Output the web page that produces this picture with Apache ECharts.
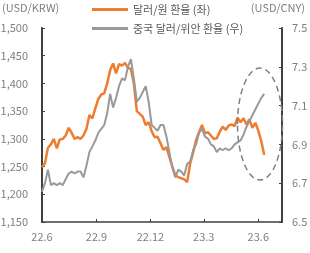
<!DOCTYPE html>
<html>
<head>
<meta charset="utf-8">
<script src="https://cdn.jsdelivr.net/npm/echarts@6.0.0/dist/echarts.min.js"></script>
<style>
  html, body { margin: 0; padding: 0; background: #fff; }
  #chart { width: 310px; height: 253px; }
</style>
</head>
<body>
<div id="chart"></div>
<script>
// sample dates (every 5 days)
var dates = [
  '2022-06-01','2022-06-06','2022-06-11','2022-06-16','2022-06-21','2022-06-26',
  '2022-07-01','2022-07-06','2022-07-11','2022-07-16','2022-07-21','2022-07-26','2022-07-31',
  '2022-08-05','2022-08-10','2022-08-15','2022-08-20','2022-08-25','2022-08-30',
  '2022-09-04','2022-09-09','2022-09-14','2022-09-19','2022-09-24','2022-09-29',
  '2022-10-04','2022-10-09','2022-10-14','2022-10-19','2022-10-24','2022-10-29',
  '2022-11-03','2022-11-08','2022-11-13','2022-11-18','2022-11-23','2022-11-28',
  '2022-12-03','2022-12-08','2022-12-13','2022-12-18','2022-12-23','2022-12-28',
  '2023-01-02','2023-01-07','2023-01-12','2023-01-17','2023-01-22','2023-01-27',
  '2023-02-01','2023-02-06','2023-02-11','2023-02-16','2023-02-21','2023-02-26',
  '2023-03-03','2023-03-08','2023-03-13','2023-03-18','2023-03-23','2023-03-28',
  '2023-04-02','2023-04-07','2023-04-12','2023-04-17','2023-04-22','2023-04-27',
  '2023-05-02','2023-05-07','2023-05-12','2023-05-17','2023-05-22','2023-05-27',
  '2023-06-01','2023-06-06','2023-06-11'
];

// 달러/원 환율 (좌)
var krw = [
  1249,1256,1284,1290,1300,1283,
  1299,1300,1306,1320,1311,1300,1303,
  1300,1306,1318,1343,1337,1355,
  1372,1380,1382,1400,1424,1436,
  1418,1435,1432,1437,1428,1426,
  1400,1350,1345,1340,1325,1330,
  1314,1303,1304,1292,1280,1285,
  1267,1250,1234,1231,1229,1227,
  1222,1255,1275,1298,1312,1325,
  1310,1312,1306,1300,1301,1313,
  1322,1316,1324,1326,1323,1338,
  1330,1337,1326,1335,1320,1329,
  1315,1296,1271
];

// 중국 달러/위안 환율 (우)
var cny = [
  6.656,6.70,6.77,6.69,6.70,6.69,
  6.70,6.69,6.72,6.75,6.76,6.75,6.76,
  6.76,6.73,6.79,6.86,6.89,6.92,
  6.96,6.98,7.00,7.06,7.16,7.09,
  7.14,7.20,7.24,7.23,7.30,7.34,
  7.24,7.12,7.14,7.17,7.20,7.12,
  7.00,6.985,6.97,7.00,7.00,6.94,
  6.86,6.78,6.73,6.77,6.76,6.74,
  6.80,6.81,6.87,6.90,6.96,6.98,
  6.94,6.93,6.90,6.89,6.86,6.88,
  6.87,6.88,6.87,6.88,6.90,6.91,
  6.92,6.95,6.99,7.02,7.05,7.08,
  7.11,7.14,7.16
];

var tickDates = ['2022-06-01','2022-09-01','2022-12-01','2023-03-01','2023-06-01'];
var tickLabels = ['22.6','22.9','22.12','23.3','23.6'];
var xStart = '2022-06-01';
var xEnd = '2023-07-11';

var chart = echarts.init(document.getElementById('chart'));
var labelColor = '#7f7f7f';
var axisColor = '#404040';
var orange = '#ED7D31';
var gray = '#999999';
var font = "'Noto Sans CJK KR', 'Noto Sans', sans-serif";

function ts(d){ return new Date(d + 'T00:00:00Z').getTime(); }
var tickTimes = tickDates.map(ts);

function pairs(vals){
  var out = [];
  for (var i = 0; i < vals.length; i++) out.push([ts(dates[i]), vals[i]]);
  return out;
}

var option = {
  animation: false,
  textStyle: { fontFamily: font },
  grid: { left: 42, right: 28, top: 28, bottom: 31, containLabel: false, outerBoundsMode: 'none' },
  legend: {
    orient: 'vertical',
    left: 92,
    top: 4,
    padding: 0,
    icon: 'rect',
    itemWidth: 36,
    itemHeight: 3,
    itemGap: 8,
    textStyle: { color: '#595959', fontSize: 11, fontFamily: font },
    data: [
      { name: '달러/원 환율 (좌)', itemStyle: { color: orange } },
      { name: '중국 달러/위안 환율 (우)', itemStyle: { color: gray } }
    ]
  },
  xAxis: {
    type: 'value',
    min: ts(xStart),
    max: ts(xEnd),
    splitLine: { show: false },
    axisLine: { show: true, lineStyle: { color: axisColor, width: 1.5 } },
    axisTick: { show: true, inside: true, length: 3, customValues: tickTimes, lineStyle: { color: axisColor } },
    axisLabel: {
      customValues: tickTimes,
      color: labelColor,
      fontSize: 11,
      margin: 9,
      showMinLabel: true,
      showMaxLabel: true,
      formatter: function(v){
        var best = 0;
        for (var i = 1; i < tickTimes.length; i++) {
          if (Math.abs(tickTimes[i] - v) < Math.abs(tickTimes[best] - v)) best = i;
        }
        return tickLabels[best];
      }
    }
  },
  yAxis: [
    {
      type: 'value',
      min: 1150,
      max: 1500,
      interval: 50,
      splitLine: { show: false },
      axisLine: { show: true, lineStyle: { color: axisColor, width: 2 } },
      axisTick: { show: true, inside: true, length: 3, lineStyle: { color: axisColor } },
      axisLabel: {
        color: labelColor,
        fontSize: 11,
        margin: 14,
        formatter: function(v){ return v.toLocaleString('en-US'); }
      }
    },
    {
      type: 'value',
      min: 6.5,
      max: 7.5,
      interval: 0.2,
      position: 'right',
      splitLine: { show: false },
      axisLine: { show: true, lineStyle: { color: axisColor, width: 2 } },
      axisTick: { show: true, inside: true, length: 3, lineStyle: { color: axisColor } },
      axisLabel: {
        color: labelColor,
        fontSize: 11,
        margin: 10,
        formatter: function(v){ return v.toFixed(1); }
      }
    }
  ],
  series: [
    {
      name: '달러/원 환율 (좌)',
      type: 'line',
      yAxisIndex: 0,
      symbol: 'none',
      showSymbol: false,
      lineStyle: { color: orange, width: 2.5 },
      itemStyle: { color: orange },
      data: pairs(krw)
    },
    {
      name: '중국 달러/위안 환율 (우)',
      type: 'line',
      yAxisIndex: 1,
      symbol: 'none',
      showSymbol: false,
      lineStyle: { color: gray, width: 2 },
      itemStyle: { color: gray },
      data: pairs(cny)
    }
  ],
  graphic: [
    { type: 'text', left: 2, top: 2, style: { text: '(USD/KRW)', fill: labelColor, fontSize: 11, fontFamily: font } },
    { type: 'text', right: 5, top: 2, style: { text: '(USD/CNY)', fill: labelColor, fontSize: 11, fontFamily: font } },
    {
      type: 'ellipse',
      shape: { cx: 260, cy: 124, rx: 22.5, ry: 56 },
      style: { fill: null, stroke: '#808080', lineWidth: 1.5, lineDash: [6, 4] },
      z: 10
    }
  ]
};

chart.setOption(option);
</script>
</body>
</html>
